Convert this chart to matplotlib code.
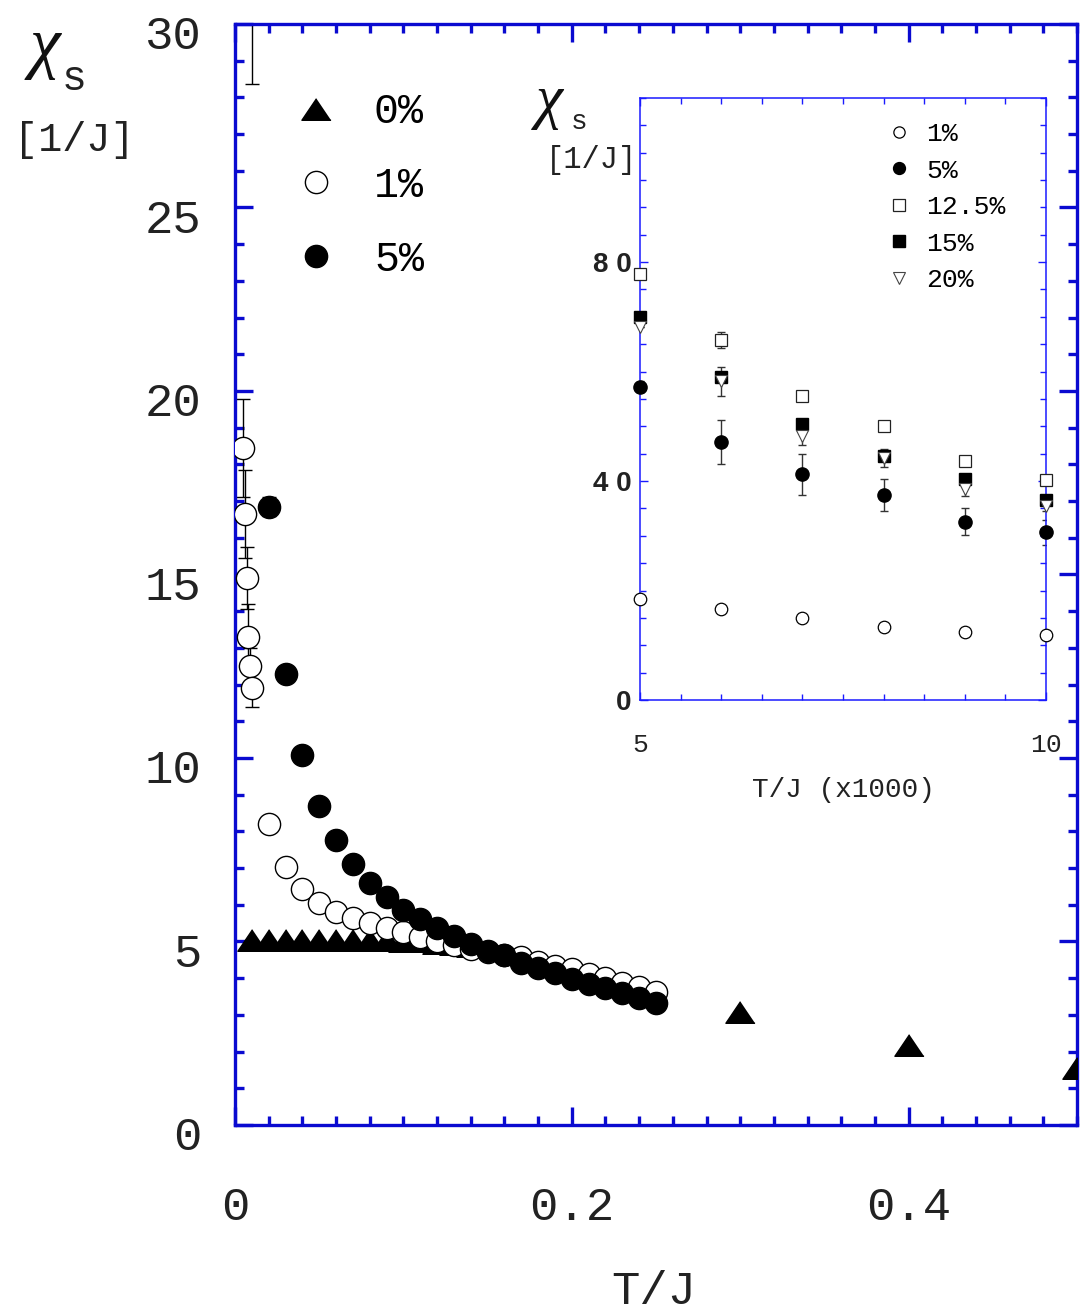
import matplotlib
matplotlib.use("Agg")
import matplotlib.pyplot as plt
import matplotlib.transforms as mtransforms
from matplotlib.ticker import MultipleLocator, FixedLocator, FixedFormatter

MONO = "Liberation Mono"
BLUE = "#0a0ad0"
IBLUE = "#1a1aff"

# low temperature points, T/J = 0.005 ... 0.010
t_low = [0.005, 0.006, 0.007, 0.008, 0.009, 0.010]
chi1_low = [18.45, 16.65, 14.9, 13.3, 12.5, 11.9]
err1_low = [1.33, 1.2, 0.85, 0.9, 0.5, 0.5]
chi5_low = [57.2, 47.2, 41.2, 37.5, 32.6, 30.6]
err5_low = [1.0, 4.0, 3.8, 2.9, 2.5, 2.25]
chi125_low = [77.8, 65.8, 55.6, 50.0, 43.6, 40.2]
err125_low = [0.0, 1.4, 0.0, 0.0, 0.0, 0.0]
chi15_low = [69.9, 59.0, 50.5, 44.6, 40.4, 36.5]
chi20_low = [68.2, 58.2, 48.2, 44.2, 38.6, 35.5]
err20_low = [0.0, 2.7, 1.6, 1.6, 1.3, 1.0]

# higher temperature points
t_high = [0.02, 0.03, 0.04, 0.05, 0.06, 0.07, 0.08, 0.09, 0.10, 0.11, 0.12, 0.13,
          0.14, 0.15, 0.16, 0.17, 0.18, 0.19, 0.20, 0.21, 0.22, 0.23, 0.24, 0.25]
chi1_high = [8.19, 7.04, 6.43, 6.06, 5.80, 5.63, 5.50, 5.38, 5.25, 5.13, 5.01, 4.90,
             4.80, 4.72, 4.64, 4.57, 4.45, 4.34, 4.24, 4.11, 4.00, 3.86, 3.76, 3.63]
chi5_high = [16.85, 12.28, 10.08, 8.69, 7.76, 7.12, 6.60, 6.20, 5.86, 5.60, 5.37, 5.15,
             4.93, 4.75, 4.62, 4.42, 4.29, 4.13, 3.99, 3.84, 3.72, 3.59, 3.46, 3.33]
err5_high = [0.27] + [0.0] * 23

# pure system (0%)
t_pure = [0.01, 0.02, 0.03, 0.04, 0.05, 0.06, 0.07, 0.08, 0.09, 0.10, 0.11, 0.12,
          0.13, 0.14, 0.3, 0.4, 0.5]
chi_pure = [5.05, 5.05, 5.05, 5.05, 5.05, 5.05, 5.05, 5.05, 5.04, 5.02, 5.0, 4.97,
            4.93, 4.88, 3.07, 2.18, 1.55]

tri = [(0, 1), (-1.35, -1), (1.35, -1)]

fig = plt.figure(figsize=(10.8, 13.13), dpi=100)
ax = fig.add_axes([0.2176, 0.1432, 0.7796, 0.8386])

# main plot
ax.errorbar(t_low, chi1_low, yerr=err1_low, fmt="none", ecolor="black",
            elinewidth=1, capsize=5, capthick=1, zorder=2)
ax.errorbar(t_low + t_high, chi5_low + chi5_high, yerr=err5_low + err5_high,
            fmt="none", ecolor="black", elinewidth=1, capsize=5, capthick=1, zorder=2)
ax.plot(t_pure, chi_pure, ls="none", marker=tri, ms=21, color="black",
        label="0%", zorder=3)
ax.plot(t_low + t_high, chi1_low + chi1_high, ls="none", marker="o", ms=16,
        mfc="white", mec="black", mew=1, label="1%", zorder=4)
ax.plot(t_low + t_high, chi5_low + chi5_high, ls="none", marker="o", ms=16,
        color="black", label="5%", zorder=5)

ax.set_xlim(0, 0.5)
ax.set_ylim(0, 30)
ax.xaxis.set_major_locator(FixedLocator([0, 0.2, 0.4]))
ax.xaxis.set_major_formatter(FixedFormatter(["0", "0.2", "0.4"]))
ax.xaxis.set_minor_locator(MultipleLocator(0.02))
ax.yaxis.set_major_locator(MultipleLocator(5))
ax.yaxis.set_minor_locator(MultipleLocator(1))
for s in ax.spines.values():
    s.set_color(BLUE)
    s.set_linewidth(2.4)
ax.tick_params(which="both", direction="in", color=BLUE, width=2.4,
               top=True, right=True, labelcolor="#222222")
ax.tick_params(which="major", length=13)
ax.tick_params(which="minor", length=6.5)
ax.tick_params(axis="y", which="major", pad=24, labelsize=34)
ax.tick_params(axis="x", which="major", pad=44, labelsize=34)
down = mtransforms.ScaledTranslation(0, -6 / 72, fig.dpi_scale_trans)
for lab in ax.get_yticklabels():
    lab.set_fontfamily(MONO)
    lab.set_transform(lab.get_transform() + down)
for lab in ax.get_xticklabels():
    lab.set_fontfamily(MONO)

ax.legend(loc="upper left", bbox_to_anchor=(0.071, 0.938), frameon=False,
          prop={"family": MONO, "size": 30}, handlelength=1.0,
          handletextpad=0.9, labelspacing=0.81, borderaxespad=0, borderpad=0)

fig.text(0.042, 0.963, "χ", fontsize=50, family="Liberation Serif", style="italic",
         ha="center", va="center", color="#111111")
fig.text(0.069, 0.940, "s", fontsize=30, family=MONO, ha="center", va="center",
         color="#222222")
fig.text(0.069, 0.893, "[1/J]", fontsize=29, family=MONO, ha="center", va="center",
         color="#222222")
fig.text(0.605, 0.016, "T/J", fontsize=34, family=MONO, ha="center", va="center",
         color="#222222")

# inset
ins = fig.add_axes([0.5926, 0.4669, 0.3759, 0.4585])
t_ins = [t * 1000 for t in t_low]
ins.errorbar(t_ins, chi5_low, yerr=err5_low, fmt="none", ecolor="#333333",
             elinewidth=1, capsize=3, capthick=1, zorder=2)
ins.errorbar(t_ins, chi20_low, yerr=err20_low, fmt="none", ecolor="#333333",
             elinewidth=1, capsize=3, capthick=1, zorder=2)
ins.errorbar(t_ins, chi125_low, yerr=err125_low, fmt="none", ecolor="#333333",
             elinewidth=1, capsize=3, capthick=1, zorder=2)
ins.plot(t_ins, chi1_low, ls="none", marker="o", ms=9, mfc="white", mec="black",
         mew=0.9, label="1%", zorder=3, clip_on=False)
ins.plot(t_ins, chi5_low, ls="none", marker="o", ms=9.5, color="black",
         label="5%", zorder=3, clip_on=False)
ins.plot(t_ins, chi125_low, ls="none", marker="s", ms=9, mfc="white", mec="#222222",
         mew=0.9, label="12.5%", zorder=3, clip_on=False)
ins.plot(t_ins, chi15_low, ls="none", marker="s", ms=9, color="black",
         label="15%", zorder=4, clip_on=False)
ins.plot(t_ins, chi20_low, ls="none", marker="v", ms=9, mfc="white", mec="#444444",
         mew=0.8, label="20%", zorder=5, clip_on=False)

ins.set_xlim(5, 10)
ins.set_ylim(0, 110)
ins.xaxis.set_major_locator(FixedLocator([5, 10]))
ins.xaxis.set_major_formatter(FixedFormatter(["5", "10"]))
ins.xaxis.set_minor_locator(MultipleLocator(0.5))
ins.yaxis.set_major_locator(FixedLocator([0, 40, 80]))
ins.yaxis.set_major_formatter(FixedFormatter(["0", "4 0", "8 0"]))
ins.yaxis.set_minor_locator(MultipleLocator(5))
for s in ins.spines.values():
    s.set_color(IBLUE)
    s.set_linewidth(1.1)
ins.tick_params(which="both", direction="in", color=IBLUE, width=1,
                top=True, right=True, labelcolor="#222222")
ins.tick_params(which="major", length=5.5)
ins.tick_params(which="minor", length=4.5)
ins.tick_params(axis="y", pad=6, labelsize=20)
ins.tick_params(axis="x", pad=24, labelsize=19)
for lab in ins.get_yticklabels():
    lab.set_fontfamily("Liberation Sans")
    lab.set_fontweight("bold")
for lab in ins.get_xticklabels():
    lab.set_fontfamily(MONO)

ins.legend(loc="upper left", bbox_to_anchor=(0.605, 0.96), frameon=False,
           prop={"family": MONO, "size": 19}, handlelength=1.0,
           handletextpad=0.55, labelspacing=0.475, borderaxespad=0, borderpad=0,
           markerscale=0.9)

fig.text(0.509, 0.922, "χ", fontsize=44, family="Liberation Serif", style="italic",
         ha="center", va="center", color="#111111")
fig.text(0.536, 0.907, "s", fontsize=20, family=MONO, ha="center", va="center",
         color="#222222")
fig.text(0.548, 0.878, "[1/J]", fontsize=22, family=MONO, ha="center", va="center",
         color="#222222")
fig.text(0.781, 0.398, "T/J (x1000)", fontsize=20, family=MONO, ha="center",
         va="center", color="#222222")

fig.savefig("out.png", dpi=100)
